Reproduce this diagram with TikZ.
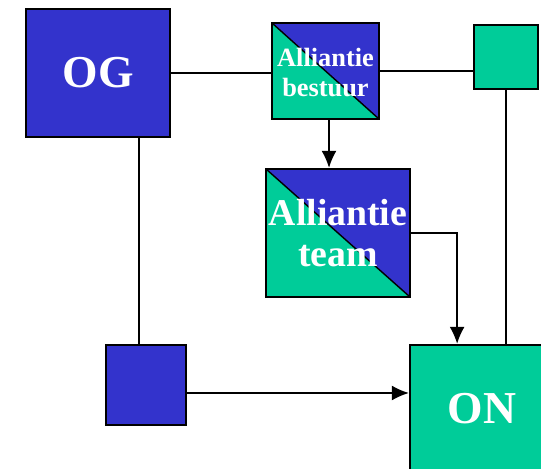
\documentclass[tikz,border=0pt]{standalone}
\usepackage{fontspec}
\setmainfont{Liberation Serif}
\usepackage{xcolor}
\usetikzlibrary{positioning,shapes,arrows.meta,calc}

\definecolor{ogblue}{HTML}{3333CC}
\definecolor{ongreen}{HTML}{00CC99}

\tikzset{
  box/.style={draw,line width=1.4pt,rectangle,inner sep=0pt,align=center,text=white,font=\bfseries},
  split/.style={box,fill=ogblue,path picture={
      \fill[ongreen] (path picture bounding box.north west) -- (path picture bounding box.south east)
        -- (path picture bounding box.south west) -- cycle;
      \draw[line width=0.8pt] (path picture bounding box.north west) -- (path picture bounding box.south east);}},
  link/.style={line width=0.8pt}
}

\begin{document}
\begin{tikzpicture}[x=0.02cm,y=-0.02cm,>={Latex[length=3.4mm,width=3mm]}]
  \clip (0,0) rectangle (541,469);
  \fill[white] (0,0) rectangle (541,469);

  % boxes
  \node[box,fill=ogblue,minimum width=2.88cm,minimum height=2.56cm,font=\bfseries\fontsize{26}{28}\selectfont] (og) at (98,73) {OG};
  \node[split,minimum width=2.14cm,minimum height=1.92cm,font=\bfseries\fontsize{15}{16}\selectfont] (bestuur) at (325.5,71)
    {\raisebox{-3pt}[\height][\depth]{\begin{tabular}{@{}c@{}}Alliantie\\[1pt]bestuur\end{tabular}}};
  \node[box,fill=ongreen,minimum width=1.28cm,minimum height=1.28cm] (gsq) at (506,57) {};
  \node[split,minimum width=2.88cm,minimum height=2.56cm,font=\bfseries\fontsize{21.5}{23}\selectfont] (team) at (338,233) {Alliantie\\team};
  \node[box,fill=ogblue,minimum width=1.6cm,minimum height=1.6cm] (bsq) at (146,385) {};
  \node[box,fill=ongreen,minimum width=2.88cm,minimum height=2.56cm,font=\bfseries\fontsize{26}{28}\selectfont] (on) at (482,409) {ON};

  % connections
  \draw[link] (og.east) -- (og.east -| bestuur.west);
  \draw[link] (bestuur.east) -- (bestuur.east -| gsq.west);
  \draw[link,->] ([xshift=0.07cm]bestuur.south) -- ([xshift=0.07cm]bestuur.south |- team.north);
  \coordinate (ontop) at ($(on.north west)!.33!(on.north east)$);
  \draw[link,->] (team.east) -| (ontop);
  \draw[link] (gsq.south) -- (gsq.south |- on.north);
  \coordinate (ogfoot) at ($(og.south west)!.78!(og.south east)$);
  \draw[link] (ogfoot) -- (ogfoot |- bsq.north);
  \draw[link,->] ([yshift=-0.16cm]bsq.east) -- ([yshift=-0.16cm]bsq.east -| on.west);
\end{tikzpicture}
\end{document}
